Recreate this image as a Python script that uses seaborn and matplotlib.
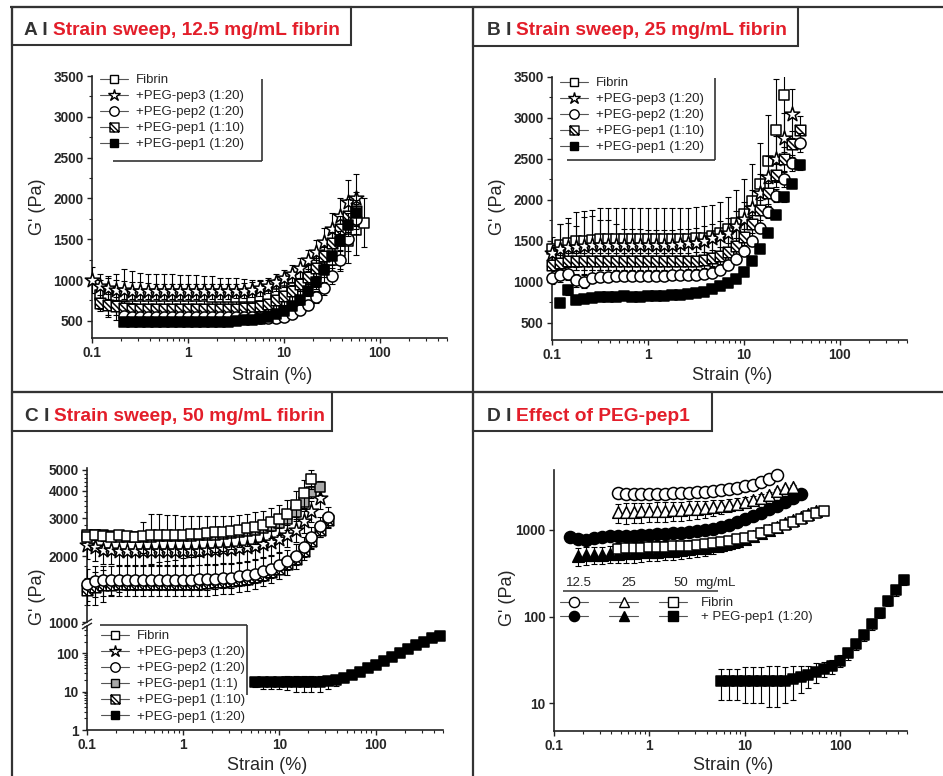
import numpy as np
import matplotlib
matplotlib.use('Agg')
import matplotlib.pyplot as plt
import seaborn as sns
from matplotlib.lines import Line2D
from matplotlib.patches import Rectangle
from matplotlib.path import Path
from matplotlib.ticker import LogLocator, NullFormatter, NullLocator, FixedLocator, MultipleLocator

sns.set_style('ticks')
plt.rcParams['font.family'] = ['Liberation Sans', 'DejaVu Sans']

# strain points of the sweep (%), 12 per decade
strain = [0.1, 0.121, 0.147, 0.178, 0.215, 0.261, 0.316, 0.383, 0.464, 0.562, 0.681, 0.825,
          1.0, 1.21, 1.47, 1.78, 2.15, 2.61, 3.16, 3.83, 4.64, 5.62, 6.81, 8.25,
          10.0, 12.1, 14.7, 17.8, 21.5, 26.1, 31.6, 38.3, 46.4, 56.2, 68.1, 82.5,
          100, 121, 147, 178, 215, 261, 316, 383, 464]

# ---- A: 12.5 mg/mL fibrin (G' in Pa)
a_fibrin = [820, 800, 790, 800, 810, 800, 800, 800, 800, 800, 800,
            800, 800, 800, 795, 790, 790, 790, 790, 790, 800, 810, 830,
            860, 900, 950, 1010, 1080, 1150, 1240, 1350, 1480, 1610, 1700]
a_fibrin_err = [180, 250, 280, 330, 300, 290, 280, 280, 270, 270, 260,
                260, 260, 250, 250, 240, 240, 230, 220, 210, 200, 190, 180,
                170, 170, 170, 180, 190, 200, 220, 240, 270, 300, 300]
a_pep3 = [1000, 930, 900, 880, 880, 870, 870, 865, 860, 860, 860, 860,
          860, 860, 860, 860, 860, 860, 865, 870, 880, 900, 930, 970,
          1020, 1080, 1150, 1240, 1340, 1470, 1620, 1780, 1960, 2000]
a_pep3_err = [160, 150, 130, 120, 110, 100, 100, 100, 90, 90, 90, 90,
              90, 90, 90, 90, 90, 90, 90, 90, 90, 90, 90, 100,
              100, 110, 120, 130, 150, 170, 200, 230, 260, 300]
a_pep2 = [560, 550, 550, 550, 550, 550, 550, 550,
          550, 550, 550, 550, 550, 550, 550, 545, 545, 540, 540, 540,
          550, 580, 630, 700, 790, 900, 1050, 1250, 1500, 1750]
a_pep2_err = [50, 40, 40, 40, 40, 40, 40, 40,
              40, 40, 40, 40, 40, 40, 40, 40, 40, 40, 40, 40,
              40, 40, 50, 60, 70, 80, 100, 120, 150, 180]
a_pep1_10 = [720, 700, 680, 660, 650, 650, 650, 650, 650, 650, 650,
             650, 650, 650, 650, 650, 650, 650, 655, 660, 680, 710, 750,
             800, 870, 950, 1040, 1150, 1290, 1450, 1620, 1790, 1850]
a_pep1_10_err = [100, 130, 110, 80, 70, 60, 60, 60, 60, 60, 60,
                 60, 60, 60, 60, 60, 60, 60, 60, 60, 60, 60, 60,
                 60, 70, 80, 90, 100, 120, 140, 170, 200, 230]
a_pep1_20 = [480, 480, 480, 480, 480, 480, 480, 480,
             480, 480, 485, 485, 490, 490, 500, 505, 510, 525, 550, 580,
             620, 680, 760, 860, 980, 1120, 1290, 1480, 1680, 1820]
a_pep1_20_err = [40, 40, 40, 40, 40, 40, 40, 40,
                 40, 40, 40, 40, 40, 40, 40, 40, 40, 40, 40, 40,
                 40, 40, 50, 60, 70, 80, 100, 120, 140, 160]

# ---- B: 25 mg/mL fibrin
b_fibrin = [1400, 1450, 1480, 1500, 1500, 1510, 1520, 1520, 1520, 1520, 1520, 1520,
            1520, 1520, 1520, 1520, 1520, 1520, 1530, 1540, 1560, 1590, 1640, 1720,
            1830, 1990, 2200, 2480, 2850, 3280]
b_fibrin_err = [150, 250, 300, 350, 360, 370, 380, 380, 380, 380, 380, 380,
                380, 380, 380, 380, 380, 380, 380, 380, 380, 380, 390, 400,
                420, 450, 500, 560, 620, 700]
b_pep3 = [1350, 1400, 1420, 1430, 1440, 1450, 1450, 1450, 1450, 1450, 1450, 1450,
          1450, 1450, 1450, 1450, 1460, 1470, 1480, 1500, 1530, 1560, 1600, 1680,
          1770, 1900, 2080, 2280, 2500, 2760, 3050]
b_pep3_err = [100, 300, 300, 250, 350, 350, 300, 300, 250, 200, 200, 200,
              180, 180, 180, 180, 180, 180, 180, 180, 180, 180, 180, 180,
              200, 220, 240, 260, 280, 300, 300]
b_pep2 = [1050, 1080, 1100, 1020, 1000, 1050, 1060, 1060, 1070, 1070, 1070, 1070,
          1070, 1070, 1075, 1080, 1080, 1080, 1085, 1090, 1110, 1140, 1200, 1280,
          1380, 1500, 1660, 1850, 2050, 2250, 2450, 2700]
b_pep2_err = [80, 80, 80, 80, 80, 60, 50, 50, 50, 50, 50, 50,
              50, 50, 50, 50, 50, 50, 50, 50, 50, 50, 50, 50,
              50, 60, 60, 70, 80, 90, 100, 120]
b_pep1_10 = [1200, 1230, 1250, 1250, 1250, 1250, 1250, 1250, 1250, 1250, 1250, 1250,
             1250, 1250, 1250, 1250, 1250, 1255, 1260, 1270, 1290, 1320, 1370, 1440,
             1550, 1700, 1880, 2080, 2300, 2500, 2680, 2850]
b_pep1_10_err = [100, 100, 100, 100, 100, 100, 100, 100, 100, 100, 100, 100,
                 100, 100, 100, 100, 100, 100, 100, 100, 100, 100, 100, 100,
                 100, 110, 120, 130, 140, 150, 160, 180]
b_pep1_20 = [740, 900, 780, 790, 800, 820, 810, 820, 830, 820, 820,
             830, 830, 830, 840, 840, 850, 860, 880, 910, 950, 990, 1040,
             1120, 1250, 1400, 1600, 1820, 2030, 2200, 2420]
b_pep1_20_err = [50, 60, 50, 50, 50, 50, 50, 50, 50, 50, 50,
                 30, 30, 30, 30, 30, 30, 30, 30, 30, 30, 30, 30,
                 30, 30, 40, 40, 50, 50, 60, 60]

# ---- C: 50 mg/mL fibrin
c_fibrin = [2450, 2500, 2480, 2450, 2500, 2480, 2460, 2480, 2500, 2500, 2500, 2510,
            2520, 2530, 2540, 2560, 2580, 2600, 2620, 2650, 2690, 2740, 2800, 2880,
            2980, 3150, 3450, 3900, 4550]
c_fibrin_err = [100, 120, 120, 100, 100, 100, 100, 400, 650, 620, 600, 580,
                560, 540, 520, 500, 480, 470, 460, 450, 450, 450, 450, 460,
                480, 500, 550, 600, 450]
c_pep1_1 = [2500, 2520, 2500, 2480, 2450, 2450, 2460, 2470, 2470, 2480, 2480, 2480,
            2480, 2490, 2500, 2510, 2520, 2540, 2560, 2580, 2610, 2650, 2700, 2770,
            2850, 2980, 3200, 3550, 3950, 4150]
c_pep1_1_err = [80, 80, 80, 80, 80, 80, 80, 80, 80, 80, 80, 80,
                80, 80, 80, 80, 80, 80, 80, 80, 80, 80, 80, 80,
                100, 120, 150, 200, 250, 300]
c_pep3 = [2250, 2200, 2150, 2150, 2130, 2120, 2120, 2120, 2120, 2120, 2120, 2120,
          2120, 2130, 2130, 2140, 2150, 2160, 2170, 2190, 2210, 2240, 2280, 2330,
          2400, 2500, 2650, 2900, 3250, 3700]
c_pep3_err = [300, 300, 300, 300, 300, 300, 300, 300, 300, 300, 300, 300,
              300, 300, 300, 300, 300, 300, 300, 300, 300, 300, 300, 300,
              300, 300, 320, 340, 360, 380]
c_pep2 = [1500, 1550, 1560, 1560, 1560, 1560, 1560, 1560, 1560, 1560, 1560, 1560,
          1560, 1560, 1570, 1570, 1580, 1590, 1600, 1620, 1640, 1670, 1710, 1760,
          1820, 1900, 2020, 2200, 2450, 2750, 3050]
c_pep2_err = [250, 250, 250, 250, 250, 250, 250, 250, 250, 250, 250, 250,
              250, 250, 250, 250, 250, 250, 250, 250, 250, 250, 250, 250,
              250, 250, 260, 270, 280, 300, 320]
c_pep1_10 = [1400, 1450, 1480, 1480, 1490, 1500, 1500, 1500, 1500, 1500, 1500, 1500,
             1500, 1500, 1500, 1510, 1520, 1530, 1540, 1560, 1580, 1610, 1650, 1700,
             1760, 1840, 1950, 2120, 2350, 2650, 2950]
c_pep1_10_err = [200, 250, 250, 150, 120, 100, 100, 100, 100, 100, 100, 100,
                 100, 100, 100, 100, 100, 100, 100, 100, 100, 100, 100, 100,
                 100, 110, 120, 140, 160, 200, 250]
c_pep1_20 = [18, 18, 18,
             18, 18, 18, 18, 18, 18, 19, 20, 23, 27, 32, 40,
             50, 62, 78, 100, 125, 160, 200, 245, 285]
c_pep1_20_err = [5, 6, 6,
                 6, 7, 8, 8, 8, 8, 7, 6, 5, 5, 5, 6,
                 7, 8, 10, 12, 14, 17, 20, 24, 28]

# ---- D: effect of PEG-pep1 at 12.5 / 25 / 50 mg/mL
d_fib125 = [2650, 2600, 2600, 2600,
            2600, 2600, 2620, 2640, 2660, 2690, 2720, 2760, 2810, 2870, 2950, 3050,
            3170, 3330, 3550, 3850, 4300]
d_fib125_err = [120, 120, 120, 120,
                120, 120, 120, 120, 120, 120, 120, 120, 120, 120, 120, 120,
                120, 120, 120, 120, 120]
d_fib25 = [1600, 1600, 1620, 1630,
           1640, 1650, 1660, 1680, 1700, 1720, 1750, 1780, 1820, 1870, 1930, 2000,
           2080, 2200, 2350, 2550, 2780, 3000, 3150]
d_fib25_err = [400, 420, 420, 420,
               420, 420, 420, 420, 420, 420, 400, 400, 380, 360, 340, 320,
               300, 280, 250, 200, 150, 120, 100]
d_fib50 = [600, 610, 620, 620,
           630, 635, 640, 645, 650, 660, 670, 685, 700, 720, 745, 775,
           810, 860, 920, 990, 1060, 1140, 1230, 1330, 1440, 1550, 1650]
d_fib50_err = [100, 100, 100, 100,
               100, 100, 100, 100, 100, 100, 100, 100, 100, 100, 100, 100,
               100, 100, 100, 100, 100, 100, 100, 100, 100, 100, 100]
d_pep125 = [820, 780, 760, 800, 830, 840, 850, 850, 860, 870,
            880, 890, 900, 910, 920, 940, 960, 990, 1030, 1080, 1150, 1230,
            1320, 1430, 1560, 1720, 1900, 2100, 2330, 2600]
d_pep125_err = [80, 80, 80, 80, 80, 80, 80, 80, 80, 80,
                60, 60, 60, 60, 60, 60, 60, 60, 60, 60, 60, 60,
                60, 60, 60, 60, 60, 60, 60, 60]
d_pep25 = [500, 510, 520, 520, 530, 530, 540, 540, 550,
           555, 560, 570, 575, 585, 595, 610, 625, 645, 670, 700, 740,
           790, 850, 920, 1000, 1090, 1190, 1300, 1420, 1540, 1650]
d_pep25_err = [120, 120, 120, 120, 120, 120, 120, 120, 120,
               120, 120, 120, 120, 120, 120, 120, 120, 120, 120, 120, 120,
               110, 100, 100, 100, 100, 100, 100, 100, 100, 100]
d_pep50 = [18, 18, 18,
           18, 18, 18, 18, 18, 18, 19, 20, 21, 23, 25, 27,
           31, 38, 48, 62, 82, 110, 150, 200, 265]
d_pep50_err = [7, 7, 7,
               8, 8, 8, 9, 9, 8, 8, 7, 6, 6, 5, 5,
               5, 6, 7, 9, 11, 14, 18, 25, 35]

legend_abc = ['Fibrin', '+PEG-pep3 (1:20)', '+PEG-pep2 (1:20)', '+PEG-pep1 (1:1)',
              '+PEG-pep1 (1:10)', '+PEG-pep1 (1:20)']

W, H = 943, 776
RED = '#e31e2a'
DARK = '#333333'

# square with a diagonal hatch
hatch_sq = Path([(-1, -1), (1, -1), (1, 1), (-1, 1), (-1, -1), (-1, 1), (1, -1), (-1, 0), (0, -1)],
                [Path.MOVETO, Path.LINETO, Path.LINETO, Path.LINETO, Path.CLOSEPOLY,
                 Path.MOVETO, Path.LINETO, Path.MOVETO, Path.LINETO])

styles = {
    'fibrin': dict(marker='s', face='white', s=58),
    'pep3': dict(marker='*', face='white', s=120),
    'pep2': dict(marker='o', face='white', s=64),
    'pep1_1': dict(marker='s', face='#a9a9a9', s=58),
    'pep1_10': dict(marker=hatch_sq, face='white', s=58),
    'pep1_20': dict(marker='s', face='black', s=58),
    'c_open': dict(marker='o', face='white', s=75),
    'c_fill': dict(marker='o', face='black', s=75),
    't_open': dict(marker='^', face='white', s=70),
    't_fill': dict(marker='^', face='black', s=70),
    's_open': dict(marker='s', face='white', s=60),
    's_fill': dict(marker='s', face='black', s=60),
}

fig = plt.figure(figsize=(W / 100, H / 100), dpi=100)


def fx(px):
    return px / W


def fy(py):
    return 1 - py / H


def fig_line(x0, y0, x1, y1, lw=1.2, color=DARK):
    fig.add_artist(Line2D([fx(x0), fx(x1)], [fy(y0), fy(y1)], transform=fig.transFigure,
                          lw=lw, color=color, solid_capstyle='butt'))


def new_axes(l, t, r, b):
    ax = fig.add_axes([l / W, 1 - b / H, (r - l) / W, (b - t) / H])
    ax.set_facecolor('none')
    for side in ['top', 'right']:
        ax.spines[side].set_visible(False)
    for side in ['left', 'bottom']:
        ax.spines[side].set_linewidth(1.2)
        ax.spines[side].set_color('#222222')
    ax.tick_params(which='major', length=3.6, width=1.0, pad=2.5, color='#222222', labelsize=9.5)
    ax.tick_params(which='minor', length=2.0, width=0.8, color='#222222')
    ax.set_xscale('log')
    ax.set_xlim(0.1, 500)
    ax.set_xticks([0.1, 1, 10, 100], labels=['0.1', '1', '10', '100'])
    ax.xaxis.set_minor_locator(LogLocator(base=10, subs=(2, 3, 4, 5, 6, 7, 8, 9), numticks=20))
    ax.xaxis.set_minor_formatter(NullFormatter())
    return ax


def bold_ticks(ax):
    for lab in ax.get_xticklabels() + ax.get_yticklabels():
        lab.set_fontweight('bold')
        lab.set_fontsize(9.8)


def draw(ax, start, vals, errs, key, z):
    st = styles[key]
    xs = strain[start:start + len(vals)]
    ax.errorbar(xs, vals, yerr=errs, fmt='none', ecolor='black', elinewidth=0.8,
                capsize=2.4, capthick=0.8, zorder=z)
    sns.scatterplot(x=xs, y=vals, marker=st['marker'], s=st['s'], color=st['face'],
                    edgecolor='black', linewidth=1.1, legend=False, ax=ax,
                    zorder=z + 0.5, clip_on=False)


def handle(key):
    st = styles[key]
    return Line2D([], [], color='#555555', lw=0.8, marker=st['marker'],
                  markersize=0.85 * np.sqrt(st['s']), markerfacecolor=st['face'],
                  markeredgecolor='black', markeredgewidth=1.0)


def add_legend(ax, keys, labels, left, top, **kw):
    opts = dict(loc='upper left', bbox_to_anchor=(fx(left), fy(top)),
                bbox_transform=fig.transFigure, frameon=False, borderpad=0,
                borderaxespad=0, handlelength=2.15, handletextpad=0.6,
                labelspacing=0.29, fontsize=9.5)
    opts.update(kw)
    leg = ax.legend([handle(k) for k in keys], labels, **opts)
    leg.set_zorder(20)
    return leg


def axis_labels(xl, yl):
    fig.text(fx(xl[0]), fy(xl[1]), 'Strain (%)', ha='center', va='center', fontsize=13)
    fig.text(fx(yl[0]), fy(yl[1]), "G' (Pa)", ha='center', va='center', rotation=90, fontsize=13)


def panel_title(letter_x, red_x, base, letter, red, box):
    fig.add_artist(Rectangle((fx(box[0]), fy(box[3])), (box[2] - box[0]) / W, (box[3] - box[1]) / H,
                             transform=fig.transFigure, fill=False, lw=1.5, ec=DARK))
    fig.text(fx(letter_x), fy(base), letter + ' I', color=DARK, fontsize=13.8,
             fontweight='bold', va='baseline')
    fig.text(fx(red_x), fy(base), red, color=RED, fontsize=13.8, fontweight='bold', va='baseline')


# panel frames
fig_line(10, 7, 943, 7, lw=1.6)
fig_line(12, 7, 12, 776, lw=1.6)
fig_line(473, 7, 473, 776, lw=1.6)
fig_line(12, 392, 943, 392, lw=1.6)

panel_title(24, 53, 35, 'A', 'Strain sweep, 12.5 mg/mL fibrin', (12, 7, 351, 45))
panel_title(487, 516, 35, 'B', 'Strain sweep, 25 mg/mL fibrin', (473, 7, 798, 46))
panel_title(25, 54, 421, 'C', 'Strain sweep, 50 mg/mL fibrin', (12, 392, 332, 431))
panel_title(487, 516, 421, 'D', 'Effect of PEG-pep1', (473, 392, 712, 431))

# ---------------- A
ax = new_axes(92, 76, 447, 338)
ax.set_ylim(290, 3500)
ax.set_yticks([500, 1000, 1500, 2000, 2500, 3000, 3500])
ax.yaxis.set_minor_locator(MultipleLocator(250))
draw(ax, 1, a_fibrin, a_fibrin_err, 'fibrin', 3)
draw(ax, 0, a_pep3, a_pep3_err, 'pep3', 4)
draw(ax, 1, a_pep1_10, a_pep1_10_err, 'pep1_10', 5)
draw(ax, 4, a_pep2, a_pep2_err, 'pep2', 6)
draw(ax, 4, a_pep1_20, a_pep1_20_err, 'pep1_20', 7)
bold_ticks(ax)
add_legend(ax, ['fibrin', 'pep3', 'pep2', 'pep1_10', 'pep1_20'],
           [legend_abc[i] for i in (0, 1, 2, 4, 5)], 100, 74)
fig_line(262, 79, 262, 161)
fig_line(113, 161, 262, 161)
axis_labels((272, 375), (37, 207))

# ---------------- B
ax = new_axes(552, 77, 907, 340)
ax.set_ylim(290, 3500)
ax.set_yticks([500, 1000, 1500, 2000, 2500, 3000, 3500])
ax.yaxis.set_minor_locator(MultipleLocator(250))
draw(ax, 0, b_fibrin, b_fibrin_err, 'fibrin', 3)
draw(ax, 0, b_pep3, b_pep3_err, 'pep3', 4)
draw(ax, 0, b_pep1_10, b_pep1_10_err, 'pep1_10', 5)
draw(ax, 0, b_pep2, b_pep2_err, 'pep2', 6)
draw(ax, 1, b_pep1_20, b_pep1_20_err, 'pep1_20', 7)
bold_ticks(ax)
add_legend(ax, ['fibrin', 'pep3', 'pep2', 'pep1_10', 'pep1_20'],
           [legend_abc[i] for i in (0, 1, 2, 4, 5)], 560, 77)
fig_line(715, 78, 715, 160)
fig_line(567, 160, 715, 160)
axis_labels((732, 375), (498, 207))

# ---------------- C (broken y axis)
ax_top = new_axes(87, 468, 443, 622)
ax_top.set_yscale('log')
ax_top.set_ylim(1000, 5100)
ax_top.set_yticks([1000, 2000, 3000, 4000, 5000], labels=['1000', '2000', '3000', '4000', '5000'])
ax_top.yaxis.set_minor_locator(FixedLocator([v for v in range(1200, 5100, 200) if v % 1000]))
ax_top.yaxis.set_minor_formatter(NullFormatter())
ax_top.spines['bottom'].set_visible(False)
ax_top.tick_params(axis='x', which='both', bottom=False, labelbottom=False)
draw(ax_top, 0, c_pep1_10, c_pep1_10_err, 'pep1_10', 3)
draw(ax_top, 0, c_pep2, c_pep2_err, 'pep2', 4)
draw(ax_top, 0, c_pep3, c_pep3_err, 'pep3', 5)
draw(ax_top, 0, c_pep1_1, c_pep1_1_err, 'pep1_1', 6)
draw(ax_top, 0, c_fibrin, c_fibrin_err, 'fibrin', 7)
bold_ticks(ax_top)

ax_low = new_axes(87, 626, 443, 730)
ax_low.set_yscale('log')
ax_low.set_ylim(1, 510)
ax_low.set_yticks([1, 10, 100], labels=['1', '10', '100'])
ax_low.yaxis.set_minor_locator(LogLocator(base=10, subs=(2, 3, 4, 5, 6, 7, 8, 9), numticks=20))
ax_low.yaxis.set_minor_formatter(NullFormatter())
draw(ax_low, 21, c_pep1_20, c_pep1_20_err, 'pep1_20', 3)
bold_ticks(ax_low)
add_legend(ax_low, ['fibrin', 'pep3', 'pep2', 'pep1_1', 'pep1_10', 'pep1_20'],
           legend_abc, 101, 630)
fig_line(100, 625, 247, 625)
fig_line(247, 625, 247, 695)
fig_line(82, 625, 92, 619, lw=1.0, color='#222222')
fig_line(82, 629, 92, 623, lw=1.0, color='#222222')
axis_labels((267, 765), (37, 597))

# ---------------- D
ax = new_axes(554, 470, 907, 731)
ax.set_yscale('log')
ax.set_ylim(4.8, 4900)
ax.set_yticks([10, 100, 1000], labels=['10', '100', '1000'])
ax.yaxis.set_minor_locator(NullLocator())
draw(ax, 3, d_pep25, d_pep25_err, 't_fill', 3)
draw(ax, 8, d_fib50, d_fib50_err, 's_open', 4)
draw(ax, 2, d_pep125, d_pep125_err, 'c_fill', 5)
draw(ax, 8, d_fib25, d_fib25_err, 't_open', 6)
draw(ax, 8, d_fib125, d_fib125_err, 'c_open', 7)
draw(ax, 21, d_pep50, d_pep50_err, 's_fill', 8)
bold_ticks(ax)
add_legend(ax, ['c_open', 'c_fill', 't_open', 't_fill', 's_open', 's_fill'],
           ['', '', '', '', 'Fibrin', '+ PEG-pep1 (1:20)'], 560, 597,
           ncol=3, handletextpad=1.0, columnspacing=0.6, handlelength=2.15,
           labelspacing=0.15)
for label, xc in [('12.5', 579), ('25', 629), ('50', 681), ('mg/mL', 715)]:
    fig.text(fx(xc), fy(583), label, ha='center', va='center', fontsize=9.5)
fig_line(563, 591, 718, 591, lw=1.1)
axis_labels((733, 765), (507, 598))

fig.savefig('out.png', dpi=100)
